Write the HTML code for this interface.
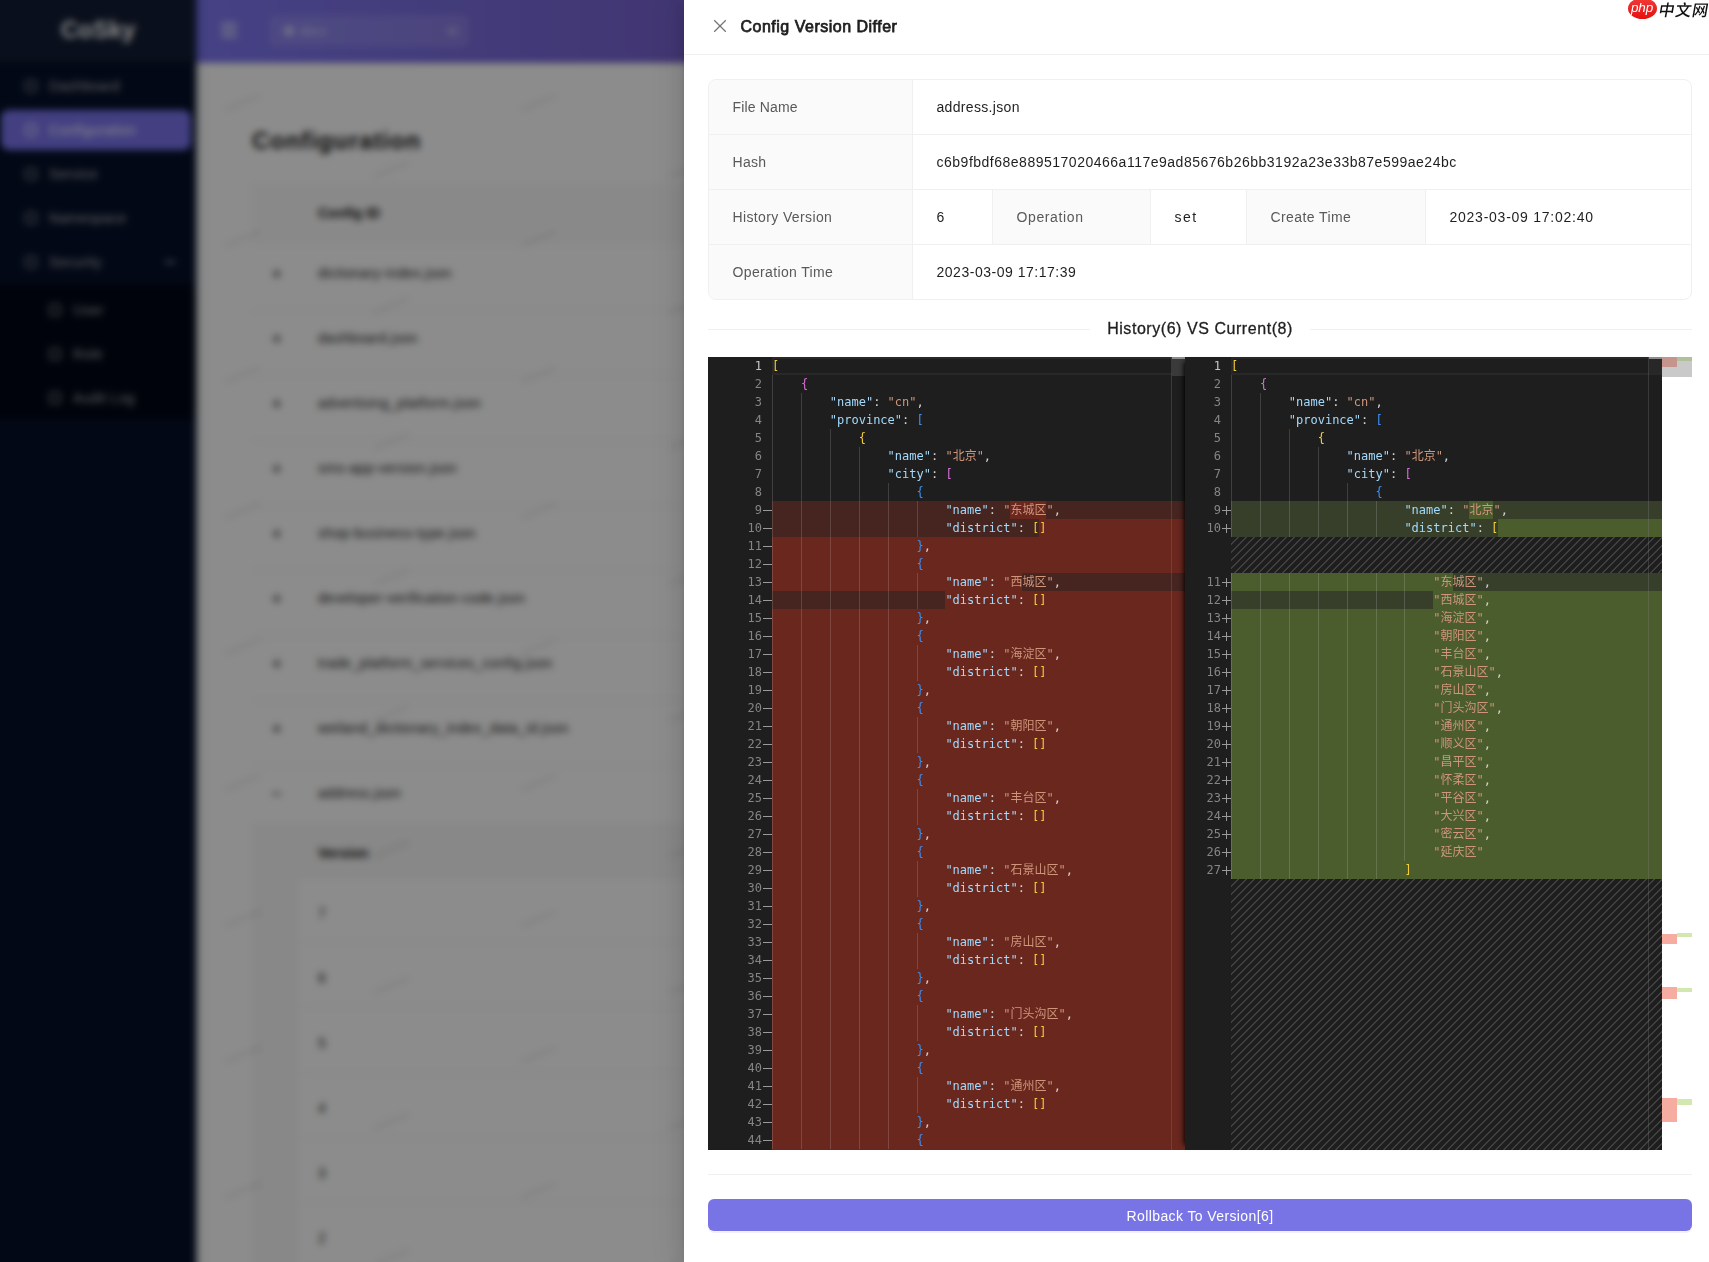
<!DOCTYPE html>
<html lang="en"><head><meta charset="utf-8"><title>Config Version Differ</title>
<style>
*{box-sizing:border-box;margin:0;padding:0}
html,body{width:1709px;height:1262px;overflow:hidden;background:#fff}
body{position:relative;font-family:"Liberation Sans","Noto Sans CJK SC",sans-serif;font-size:14px;color:#1f1f1f}
i{display:block;position:absolute;font-style:normal}
#app{position:absolute;left:0;top:0;width:1709px;height:1262px;background:#fff;filter:blur(3.5px);overflow:visible}
#mask{position:absolute;left:0;top:0;width:1709px;height:1262px;background:rgba(0,0,0,.45)}
#side{position:absolute;z-index:3;left:-30px;top:-30px;width:226px;height:1330px;background:#051028;padding-left:30px;box-shadow:2px 0 8px rgba(0,21,41,.3)}
#side>*{position:absolute}
#logo{left:0;top:0;width:226px;height:92px;background:#121d33;color:#fff;font-weight:700;font-size:24px;line-height:60px;text-align:center;padding:30px 0 0 30px}
#subbg{left:0;top:314px;width:226px;height:136px;background:#020716}
.mi{left:31px;width:190px;height:40px;border-radius:8px;color:rgba(255,255,255,.65);line-height:40px;margin-top:30px}
.mi.sel{background:#7a74ec;color:#fff}
.mi span{position:absolute;left:48px;letter-spacing:.3px}
.mi .ic{left:24px;top:14px;width:12px;height:12px;border:2px solid currentColor;border-radius:3px;opacity:.7}
.mi.subi span{left:72px}.mi.subi .ic{left:48px}
.mi .arr{right:16px;top:19px;width:10px;height:2px;background:currentColor}
#top{position:absolute;z-index:2;left:195px;top:-30px;width:1514px;height:93px;background:linear-gradient(90deg,#7e78f2 0,#7763d0 489px)}
#burger{left:26px;top:53px;width:16px;height:14px;border-top:2px solid #fff;border-bottom:2px solid #fff}
#burger:after{content:"";position:absolute;left:0;right:0;top:4px;height:2px;background:#fff}
#sel{position:absolute;left:74px;top:45px;width:200px;height:32px;border-radius:6px;background:rgba(255,255,255,.12);color:rgba(255,255,255,.7);line-height:32px}
#sel span{position:absolute;left:31px;letter-spacing:2px}
#sel .ic2{left:15px;top:11px;width:10px;height:10px;background:rgba(255,255,255,.5);border-radius:2px}
#sel .arr2{right:12px;top:13px;width:9px;height:6px;background:rgba(255,255,255,.35)}
#content{position:absolute;left:195px;top:0;width:1514px;height:1300px;background:#fff}
#content>*{position:absolute}
#ttl{left:57px;top:125px;font-size:24px;font-weight:700;line-height:32px;color:#141414;letter-spacing:.9px}
#thead{left:57px;top:184px;width:1400px;height:61px;background:#fafafa}
.th{left:123px;font-size:14px;line-height:22px;color:#141414}
.td{left:123px;font-size:14px;line-height:22px;color:#262626;letter-spacing:.3px;white-space:nowrap}
.exp{left:77px;width:9px;height:9px}.exp:before{content:"";position:absolute;left:0;top:3.5px;width:9px;height:2px;background:#595959}.exp:after{content:"";position:absolute;left:3.5px;top:0;width:2px;height:9px;background:#595959}
.exp.open:after{display:none}.rl{left:57px;width:1400px;height:1px;background:#ececec}
.rl2{left:105px;width:1400px;height:1px;background:#ececec}
#expbg{left:57px;top:823px;width:1400px;height:460px;background:#f7f7f7}
#inner{left:103px;top:879px;width:1400px;height:420px;background:#fff}
.wm{width:38px;height:3px;margin-left:3px;background:rgba(0,0,0,.09);transform:rotate(-22deg);border-radius:2px}
#drawer{position:absolute;left:684px;top:0;width:1025px;height:1262px;background:#fff;box-shadow:-6px 0 16px 0 rgba(0,0,0,.08),-3px 0 6px -4px rgba(0,0,0,.12),-9px 0 28px 8px rgba(0,0,0,.05)}
#drawer>*{position:absolute}
#dh{left:0;top:0;width:1025px;height:55px;border-bottom:1px solid #f0f0f0}
#close{position:absolute;left:29px;top:19px}
#dt{position:absolute;left:56.5px;top:15px;font-size:16px;font-weight:400;line-height:24px;color:#1f1f1f;-webkit-text-stroke:.75px #1f1f1f;letter-spacing:.5px;white-space:nowrap}
#desc{left:24px;top:79px;width:984px;height:221px;border:1px solid #f0f0f0;border-radius:8px;overflow:hidden}
.row{position:absolute;left:0;width:982px;height:55px;border-bottom:1px solid #f0f0f0}
.row>div{position:absolute;top:0;height:54px;padding:16px 24px 16px 23.5px;line-height:22px;white-space:nowrap}
.lb{background:#fafafa;color:#595959;border-right:1px solid #f0f0f0}
.vl{color:#1f1f1f}
#dv{left:24px;top:317px;width:984px;height:24px;display:flex;align-items:center}
#dv i{position:static;flex:1;height:1px;background:#f0f0f0;margin-top:1px}
#dv span{font-size:16px;line-height:24px;padding:0 17px;letter-spacing:.55px;color:#1f1f1f;-webkit-text-stroke:.3px #1f1f1f;white-space:nowrap}
#dv2{left:24px;top:1174px;width:984px;height:1px;background:#f0f0f0}
#btn{left:24px;top:1199px;width:984px;height:32px;border-radius:6px;background:#7874e6;color:#fff;text-align:center;line-height:32px;box-shadow:0 2px 0 rgba(60,5,255,.06)}
#btn span{letter-spacing:.39px;position:relative;top:1px}
.ed{position:absolute;background:#1e1e1e;overflow:hidden;font-family:"DejaVu Sans Mono","Noto Sans CJK SC",monospace;font-size:12px;line-height:18px;color:#d4d4d4}
#edR{box-shadow:-6px 0 5px -5px #000}
.ln{position:absolute;text-align:right;color:#858585;height:18px}
.ln.a{color:#c6c6c6}
#edL .ln{left:0;width:54px}
#edR .ln{left:0;width:36px}
.cl{position:absolute;height:18px;white-space:pre}
#edL .cl{left:64px}
#edR .cl{left:46px}
.k{color:#a3dafc}.s{color:#cf967c}.d{color:#d4d4d4}.by{color:#f2cf3a}.bo{color:#d670d6}.bb{color:#3f8ff0}
.g{width:1px;background:rgba(255,255,255,.15)}
.rd{background:#46241f}.rb{background:#69271e}.gd{background:#373f2b}.gb{background:#4b5c2d}
.cur{border:2px solid #282828}
.minus{left:55px;width:9px;height:1px;background:#9a9a9a}
.plus{left:37px;width:9px;height:9px}
.plus:before{content:"";position:absolute;left:0;top:4px;width:9px;height:1px;background:#9a9a9a}
.plus:after{content:"";position:absolute;left:4px;top:0;width:1px;height:9px;background:#9a9a9a}
.lane{top:0;width:1px;height:793px;background:rgba(127,127,127,.3)}
.hatch{background-image:linear-gradient(-45deg,rgba(204,204,204,.2) 12.5%,transparent 12.5%,transparent 50%,rgba(204,204,204,.2) 50%,rgba(204,204,204,.2) 62.5%,transparent 62.5%,transparent 100%);background-size:8px 8px}
#ov{position:absolute;background:#fff}
#wmk{position:absolute;left:1628px;top:0;width:81px;height:20px;white-space:nowrap}
#php{position:absolute;left:0;top:-2px;width:29px;height:21px;border-radius:50%;background:linear-gradient(#f23a3a,#e60f0f);color:#fff;font-style:italic;font-size:13.5px;line-height:20px;text-align:center;letter-spacing:-.2px;text-indent:-1px}
#cn{position:absolute;left:31px;top:-1px;font-family:"Noto Sans CJK SC","Liberation Sans",sans-serif;font-size:16px;line-height:20px;font-weight:500;color:#111;transform:skewX(-10deg);letter-spacing:.8px}
</style></head>
<body>
<div id="app"><div id="side"><div id="logo">CoSky</div><div id="subbg"></div><div class="mi" style="top:66px"><i class="ic"></i><span>Dashboard</span></div><div class="mi sel" style="top:110px"><i class="ic"></i><span>Configuration</span></div><div class="mi" style="top:154px"><i class="ic"></i><span>Service</span></div><div class="mi" style="top:198px"><i class="ic"></i><span>Namespace</span></div><div class="mi" style="top:242px"><i class="ic"></i><span>Security</span><i class="arr"></i></div><div class="mi subi" style="top:290px"><i class="ic"></i><span>User</span></div><div class="mi subi" style="top:334px"><i class="ic"></i><span>Role</span></div><div class="mi subi" style="top:378px"><i class="ic"></i><span>Audit Log</span></div></div><div id="top"><i id="burger"></i><div id="sel"><i class="ic2"></i><span>dev</span><i class="arr2"></i></div></div><div id="content"><h1 id="ttl">Configuration</h1><div id="thead"></div><b class="th" style="top:202px">Config ID</b><i class="exp" style="top:269px"></i><span class="td" style="top:262px">dictionary-index.json</span><i class="rl" style="top:310px"></i><i class="exp" style="top:334px"></i><span class="td" style="top:327px">dashboard.json</span><i class="rl" style="top:375px"></i><i class="exp" style="top:399px"></i><span class="td" style="top:392px">advertising_platform.json</span><i class="rl" style="top:440px"></i><i class="exp" style="top:464px"></i><span class="td" style="top:457px">sms-app-version.json</span><i class="rl" style="top:505px"></i><i class="exp" style="top:529px"></i><span class="td" style="top:522px">shop-business-type.json</span><i class="rl" style="top:570px"></i><i class="exp" style="top:594px"></i><span class="td" style="top:587px">developer-verification-code.json</span><i class="rl" style="top:635px"></i><i class="exp" style="top:659px"></i><span class="td" style="top:652px">trade_platform_services_config.json</span><i class="rl" style="top:700px"></i><i class="exp" style="top:724px"></i><span class="td" style="top:717px">weiland_dictionary_index_data_id.json</span><i class="rl" style="top:765px"></i><i class="exp open" style="top:789px"></i><span class="td" style="top:782px">address.json</span><i class="rl" style="top:830px"></i><div id="expbg"></div><div id="inner"></div><b class="th" style="top:842px">Version</b><span class="td" style="top:902px">7</span><i class="rl2" style="top:942px"></i><span class="td" style="top:967px">6</span><i class="rl2" style="top:1007px"></i><span class="td" style="top:1032px">5</span><i class="rl2" style="top:1072px"></i><span class="td" style="top:1097px">4</span><i class="rl2" style="top:1137px"></i><span class="td" style="top:1162px">3</span><i class="rl2" style="top:1202px"></i><span class="td" style="top:1227px">2</span><i class="rl2" style="top:1267px"></i><i class="wm" style="left:26px;top:-35.5px"></i><i class="wm" style="left:174px;top:32px"></i><i class="wm" style="left:322px;top:-35.5px"></i><i class="wm" style="left:470px;top:32px"></i><i class="wm" style="left:618px;top:-35.5px"></i><i class="wm" style="left:766px;top:32px"></i><i class="wm" style="left:26px;top:100.5px"></i><i class="wm" style="left:174px;top:168px"></i><i class="wm" style="left:322px;top:100.5px"></i><i class="wm" style="left:470px;top:168px"></i><i class="wm" style="left:618px;top:100.5px"></i><i class="wm" style="left:766px;top:168px"></i><i class="wm" style="left:26px;top:236.5px"></i><i class="wm" style="left:174px;top:304px"></i><i class="wm" style="left:322px;top:236.5px"></i><i class="wm" style="left:470px;top:304px"></i><i class="wm" style="left:618px;top:236.5px"></i><i class="wm" style="left:766px;top:304px"></i><i class="wm" style="left:26px;top:372.5px"></i><i class="wm" style="left:174px;top:440px"></i><i class="wm" style="left:322px;top:372.5px"></i><i class="wm" style="left:470px;top:440px"></i><i class="wm" style="left:618px;top:372.5px"></i><i class="wm" style="left:766px;top:440px"></i><i class="wm" style="left:26px;top:508.5px"></i><i class="wm" style="left:174px;top:576px"></i><i class="wm" style="left:322px;top:508.5px"></i><i class="wm" style="left:470px;top:576px"></i><i class="wm" style="left:618px;top:508.5px"></i><i class="wm" style="left:766px;top:576px"></i><i class="wm" style="left:26px;top:644.5px"></i><i class="wm" style="left:174px;top:712px"></i><i class="wm" style="left:322px;top:644.5px"></i><i class="wm" style="left:470px;top:712px"></i><i class="wm" style="left:618px;top:644.5px"></i><i class="wm" style="left:766px;top:712px"></i><i class="wm" style="left:26px;top:780.5px"></i><i class="wm" style="left:174px;top:848px"></i><i class="wm" style="left:322px;top:780.5px"></i><i class="wm" style="left:470px;top:848px"></i><i class="wm" style="left:618px;top:780.5px"></i><i class="wm" style="left:766px;top:848px"></i><i class="wm" style="left:26px;top:916.5px"></i><i class="wm" style="left:174px;top:984px"></i><i class="wm" style="left:322px;top:916.5px"></i><i class="wm" style="left:470px;top:984px"></i><i class="wm" style="left:618px;top:916.5px"></i><i class="wm" style="left:766px;top:984px"></i><i class="wm" style="left:26px;top:1052.5px"></i><i class="wm" style="left:174px;top:1120px"></i><i class="wm" style="left:322px;top:1052.5px"></i><i class="wm" style="left:470px;top:1120px"></i><i class="wm" style="left:618px;top:1052.5px"></i><i class="wm" style="left:766px;top:1120px"></i><i class="wm" style="left:26px;top:1188.5px"></i><i class="wm" style="left:174px;top:1256px"></i><i class="wm" style="left:322px;top:1188.5px"></i><i class="wm" style="left:470px;top:1256px"></i><i class="wm" style="left:618px;top:1188.5px"></i><i class="wm" style="left:766px;top:1256px"></i><i class="wm" style="left:26px;top:1324.5px"></i><i class="wm" style="left:174px;top:1392px"></i><i class="wm" style="left:322px;top:1324.5px"></i><i class="wm" style="left:470px;top:1392px"></i><i class="wm" style="left:618px;top:1324.5px"></i><i class="wm" style="left:766px;top:1392px"></i></div></div><div id="mask"></div>

<div id="drawer">
 <div id="dh">
  <svg id="close" width="14" height="14" viewBox="0 0 14 14"><path d="M1.2 1.2 L12.8 12.8 M12.8 1.2 L1.2 12.8" stroke="#747474" stroke-width="1.25" fill="none"/></svg>
  <div id="dt">Config Version Differ</div>
 </div>
 <div id="desc">
  <div class="row" style="top:0"><div class="lb" style="left:0;width:204px"><span style="letter-spacing:.15px">File Name</span></div><div class="vl" style="left:204px;right:0"><span style="letter-spacing:.33px">address.json</span></div></div>
  <div class="row" style="top:55px"><div class="lb" style="left:0;width:204px"><span style="letter-spacing:.3px">Hash</span></div><div class="vl" style="left:204px;right:0"><span style="letter-spacing:.505px">c6b9fbdf68e889517020466a117e9ad85676b26bb3192a23e33b87e599ae24bc</span></div></div>
  <div class="row" style="top:110px">
    <div class="lb" style="left:0;width:204px"><span style="letter-spacing:.37px">History Version</span></div>
    <div class="vl" style="left:204px;width:79px"><span>6</span></div>
    <div class="lb" style="left:283px;width:159px;border-left:1px solid #f0f0f0"><span style="letter-spacing:.62px">Operation</span></div>
    <div class="vl" style="left:442px;width:95px"><span style="letter-spacing:1.5px">set</span></div>
    <div class="lb" style="left:537px;width:180px;border-left:1px solid #f0f0f0"><span style="letter-spacing:.4px">Create Time</span></div>
    <div class="vl" style="left:717px;right:0"><span style="letter-spacing:.75px">2023-03-09 17:02:40</span></div>
  </div>
  <div class="row" style="top:165px;border-bottom:0"><div class="lb" style="left:0;width:204px"><span style="letter-spacing:.36px">Operation Time</span></div><div class="vl" style="left:204px;right:0"><span style="letter-spacing:.52px">2023-03-09 17:17:39</span></div></div>
 </div>
 <div id="dv"><i></i><span>History(6) VS Current(8)</span><i></i></div>
 <div id="dv2"></div>
 <div id="btn"><span>Rollback To Version[6]</span></div>
</div>
<div id="wmk"><span id="php">php</span><span id="cn">中文网</span></div>

<div class="ed" id="edL" style="left:708px;top:357px;width:477px;height:793px"><i class="rd" style="left:64.00px;top:144px;width:413.00px;height:36px"></i><i class="rb" style="left:302.39px;top:144px;width:36.00px;height:18px"></i><i class="rb" style="left:331.29px;top:162px;width:145.71px;height:18px"></i><i class="rb" style="left:64.00px;top:180px;width:413.00px;height:36px"></i><i class="rb" style="left:64.00px;top:216px;width:250.39px;height:18px"></i><i class="rd" style="left:314.39px;top:216px;width:162.61px;height:18px"></i><i class="rd" style="left:64.00px;top:234px;width:173.38px;height:18px"></i><i class="rb" style="left:237.38px;top:234px;width:239.62px;height:18px"></i><i class="rb" style="left:64px;top:252px;width:413px;height:541px"></i><i class="g" style="left:64.00px;top:18px;height:774px"></i><i class="g" style="left:92.90px;top:36px;height:756px"></i><i class="g" style="left:121.79px;top:72px;height:720px"></i><i class="g" style="left:150.69px;top:90px;height:702px"></i><i class="g" style="left:179.58px;top:126px;height:666px"></i><i class="g" style="left:209.38px;top:144px;height:36px"></i><i class="g" style="left:209.38px;top:216px;height:36px"></i><i class="g" style="left:209.38px;top:288px;height:36px"></i><i class="g" style="left:209.38px;top:360px;height:36px"></i><i class="g" style="left:209.38px;top:432px;height:36px"></i><i class="g" style="left:209.38px;top:504px;height:36px"></i><i class="g" style="left:209.38px;top:576px;height:36px"></i><i class="g" style="left:209.38px;top:648px;height:36px"></i><i class="g" style="left:209.38px;top:720px;height:36px"></i><i class="cur" style="left:64px;top:0;width:417px;height:18px"></i><span class="ln a" style="top:0px">1</span><div class="cl" style="top:0px"><span class="by">[</span></div><span class="ln" style="top:18px">2</span><div class="cl" style="top:18px">    <span class="bo">{</span></div><span class="ln" style="top:36px">3</span><div class="cl" style="top:36px">        <span class="k">"name"</span><span class="d">: </span><span class="s">"cn"</span><span class="d">,</span></div><span class="ln" style="top:54px">4</span><div class="cl" style="top:54px">        <span class="k">"province"</span><span class="d">: </span><span class="bb">[</span></div><span class="ln" style="top:72px">5</span><div class="cl" style="top:72px">            <span class="by">{</span></div><span class="ln" style="top:90px">6</span><div class="cl" style="top:90px">                <span class="k">"name"</span><span class="d">: </span><span class="s">"北京"</span><span class="d">,</span></div><span class="ln" style="top:108px">7</span><div class="cl" style="top:108px">                <span class="k">"city"</span><span class="d">: </span><span class="bo">[</span></div><span class="ln" style="top:126px">8</span><div class="cl" style="top:126px">                    <span class="bb">{</span></div><span class="ln" style="top:144px">9</span><i class="minus" style="top:153px"></i><div class="cl" style="top:144px">                        <span class="k">"name"</span><span class="d">: </span><span class="s">"东城区"</span><span class="d">,</span></div><span class="ln" style="top:162px">10</span><i class="minus" style="top:171px"></i><div class="cl" style="top:162px">                        <span class="k">"district"</span><span class="d">: </span><span class="by">[]</span></div><span class="ln" style="top:180px">11</span><i class="minus" style="top:189px"></i><div class="cl" style="top:180px">                    <span class="bb">}</span><span class="d">,</span></div><span class="ln" style="top:198px">12</span><i class="minus" style="top:207px"></i><div class="cl" style="top:198px">                    <span class="bb">{</span></div><span class="ln" style="top:216px">13</span><i class="minus" style="top:225px"></i><div class="cl" style="top:216px">                        <span class="k">"name"</span><span class="d">: </span><span class="s">"西城区"</span><span class="d">,</span></div><span class="ln" style="top:234px">14</span><i class="minus" style="top:243px"></i><div class="cl" style="top:234px">                        <span class="k">"district"</span><span class="d">: </span><span class="by">[]</span></div><span class="ln" style="top:252px">15</span><i class="minus" style="top:261px"></i><div class="cl" style="top:252px">                    <span class="bb">}</span><span class="d">,</span></div><span class="ln" style="top:270px">16</span><i class="minus" style="top:279px"></i><div class="cl" style="top:270px">                    <span class="bb">{</span></div><span class="ln" style="top:288px">17</span><i class="minus" style="top:297px"></i><div class="cl" style="top:288px">                        <span class="k">"name"</span><span class="d">: </span><span class="s">"海淀区"</span><span class="d">,</span></div><span class="ln" style="top:306px">18</span><i class="minus" style="top:315px"></i><div class="cl" style="top:306px">                        <span class="k">"district"</span><span class="d">: </span><span class="by">[]</span></div><span class="ln" style="top:324px">19</span><i class="minus" style="top:333px"></i><div class="cl" style="top:324px">                    <span class="bb">}</span><span class="d">,</span></div><span class="ln" style="top:342px">20</span><i class="minus" style="top:351px"></i><div class="cl" style="top:342px">                    <span class="bb">{</span></div><span class="ln" style="top:360px">21</span><i class="minus" style="top:369px"></i><div class="cl" style="top:360px">                        <span class="k">"name"</span><span class="d">: </span><span class="s">"朝阳区"</span><span class="d">,</span></div><span class="ln" style="top:378px">22</span><i class="minus" style="top:387px"></i><div class="cl" style="top:378px">                        <span class="k">"district"</span><span class="d">: </span><span class="by">[]</span></div><span class="ln" style="top:396px">23</span><i class="minus" style="top:405px"></i><div class="cl" style="top:396px">                    <span class="bb">}</span><span class="d">,</span></div><span class="ln" style="top:414px">24</span><i class="minus" style="top:423px"></i><div class="cl" style="top:414px">                    <span class="bb">{</span></div><span class="ln" style="top:432px">25</span><i class="minus" style="top:441px"></i><div class="cl" style="top:432px">                        <span class="k">"name"</span><span class="d">: </span><span class="s">"丰台区"</span><span class="d">,</span></div><span class="ln" style="top:450px">26</span><i class="minus" style="top:459px"></i><div class="cl" style="top:450px">                        <span class="k">"district"</span><span class="d">: </span><span class="by">[]</span></div><span class="ln" style="top:468px">27</span><i class="minus" style="top:477px"></i><div class="cl" style="top:468px">                    <span class="bb">}</span><span class="d">,</span></div><span class="ln" style="top:486px">28</span><i class="minus" style="top:495px"></i><div class="cl" style="top:486px">                    <span class="bb">{</span></div><span class="ln" style="top:504px">29</span><i class="minus" style="top:513px"></i><div class="cl" style="top:504px">                        <span class="k">"name"</span><span class="d">: </span><span class="s">"石景山区"</span><span class="d">,</span></div><span class="ln" style="top:522px">30</span><i class="minus" style="top:531px"></i><div class="cl" style="top:522px">                        <span class="k">"district"</span><span class="d">: </span><span class="by">[]</span></div><span class="ln" style="top:540px">31</span><i class="minus" style="top:549px"></i><div class="cl" style="top:540px">                    <span class="bb">}</span><span class="d">,</span></div><span class="ln" style="top:558px">32</span><i class="minus" style="top:567px"></i><div class="cl" style="top:558px">                    <span class="bb">{</span></div><span class="ln" style="top:576px">33</span><i class="minus" style="top:585px"></i><div class="cl" style="top:576px">                        <span class="k">"name"</span><span class="d">: </span><span class="s">"房山区"</span><span class="d">,</span></div><span class="ln" style="top:594px">34</span><i class="minus" style="top:603px"></i><div class="cl" style="top:594px">                        <span class="k">"district"</span><span class="d">: </span><span class="by">[]</span></div><span class="ln" style="top:612px">35</span><i class="minus" style="top:621px"></i><div class="cl" style="top:612px">                    <span class="bb">}</span><span class="d">,</span></div><span class="ln" style="top:630px">36</span><i class="minus" style="top:639px"></i><div class="cl" style="top:630px">                    <span class="bb">{</span></div><span class="ln" style="top:648px">37</span><i class="minus" style="top:657px"></i><div class="cl" style="top:648px">                        <span class="k">"name"</span><span class="d">: </span><span class="s">"门头沟区"</span><span class="d">,</span></div><span class="ln" style="top:666px">38</span><i class="minus" style="top:675px"></i><div class="cl" style="top:666px">                        <span class="k">"district"</span><span class="d">: </span><span class="by">[]</span></div><span class="ln" style="top:684px">39</span><i class="minus" style="top:693px"></i><div class="cl" style="top:684px">                    <span class="bb">}</span><span class="d">,</span></div><span class="ln" style="top:702px">40</span><i class="minus" style="top:711px"></i><div class="cl" style="top:702px">                    <span class="bb">{</span></div><span class="ln" style="top:720px">41</span><i class="minus" style="top:729px"></i><div class="cl" style="top:720px">                        <span class="k">"name"</span><span class="d">: </span><span class="s">"通州区"</span><span class="d">,</span></div><span class="ln" style="top:738px">42</span><i class="minus" style="top:747px"></i><div class="cl" style="top:738px">                        <span class="k">"district"</span><span class="d">: </span><span class="by">[]</span></div><span class="ln" style="top:756px">43</span><i class="minus" style="top:765px"></i><div class="cl" style="top:756px">                    <span class="bb">}</span><span class="d">,</span></div><span class="ln" style="top:774px">44</span><i class="minus" style="top:783px"></i><div class="cl" style="top:774px">                    <span class="bb">{</span></div><i class="lane" style="left:463px"></i><i class="slider" style="left:464px;top:0;width:13px;height:19px;background:#3a3a3a"></i><i class="slider" style="left:464px;top:0;width:13px;height:2px;background:#8c8c8c"></i></div>
<div class="ed" id="edR" style="left:1185px;top:357px;width:477px;height:793px"><i class="hatch" style="left:46px;top:180px;width:431px;height:36px"></i><i class="hatch" style="left:46px;top:522px;width:431px;height:271px"></i><i class="gd" style="left:46.00px;top:144px;width:431.00px;height:36px"></i><i class="gb" style="left:284.39px;top:144px;width:24.00px;height:18px"></i><i class="gb" style="left:313.29px;top:162px;width:163.71px;height:18px"></i><i class="gb" style="left:46.00px;top:216px;width:221.50px;height:18px"></i><i class="gd" style="left:267.50px;top:216px;width:209.50px;height:18px"></i><i class="gd" style="left:46.00px;top:234px;width:202.27px;height:18px"></i><i class="gb" style="left:248.27px;top:234px;width:228.73px;height:18px"></i><i class="gb" style="left:46.00px;top:252px;width:431.00px;height:270px"></i><i class="g" style="left:46.00px;top:18px;height:162px"></i><i class="g" style="left:46.00px;top:216px;height:306px"></i><i class="g" style="left:74.90px;top:36px;height:144px"></i><i class="g" style="left:74.90px;top:216px;height:306px"></i><i class="g" style="left:103.79px;top:72px;height:108px"></i><i class="g" style="left:103.79px;top:216px;height:306px"></i><i class="g" style="left:132.69px;top:90px;height:90px"></i><i class="g" style="left:132.69px;top:216px;height:306px"></i><i class="g" style="left:161.58px;top:126px;height:54px"></i><i class="g" style="left:161.58px;top:216px;height:306px"></i><i class="g" style="left:191.38px;top:144px;height:36px"></i><i class="g" style="left:191.38px;top:216px;height:306px"></i><i class="g" style="left:219.38px;top:216px;height:288px"></i><i class="cur" style="left:46px;top:0;width:431px;height:18px"></i><span class="ln a" style="top:0px">1</span><div class="cl" style="top:0px"><span class="by">[</span></div><span class="ln" style="top:18px">2</span><div class="cl" style="top:18px">    <span class="bo">{</span></div><span class="ln" style="top:36px">3</span><div class="cl" style="top:36px">        <span class="k">"name"</span><span class="d">: </span><span class="s">"cn"</span><span class="d">,</span></div><span class="ln" style="top:54px">4</span><div class="cl" style="top:54px">        <span class="k">"province"</span><span class="d">: </span><span class="bb">[</span></div><span class="ln" style="top:72px">5</span><div class="cl" style="top:72px">            <span class="by">{</span></div><span class="ln" style="top:90px">6</span><div class="cl" style="top:90px">                <span class="k">"name"</span><span class="d">: </span><span class="s">"北京"</span><span class="d">,</span></div><span class="ln" style="top:108px">7</span><div class="cl" style="top:108px">                <span class="k">"city"</span><span class="d">: </span><span class="bo">[</span></div><span class="ln" style="top:126px">8</span><div class="cl" style="top:126px">                    <span class="bb">{</span></div><span class="ln" style="top:144px">9</span><i class="plus" style="top:149px"></i><div class="cl" style="top:144px">                        <span class="k">"name"</span><span class="d">: </span><span class="s">"北京"</span><span class="d">,</span></div><span class="ln" style="top:162px">10</span><i class="plus" style="top:167px"></i><div class="cl" style="top:162px">                        <span class="k">"district"</span><span class="d">: </span><span class="by">[</span></div><span class="ln" style="top:216px">11</span><i class="plus" style="top:221px"></i><div class="cl" style="top:216px">                            <span class="s">"东城区"</span><span class="d">,</span></div><span class="ln" style="top:234px">12</span><i class="plus" style="top:239px"></i><div class="cl" style="top:234px">                            <span class="s">"西城区"</span><span class="d">,</span></div><span class="ln" style="top:252px">13</span><i class="plus" style="top:257px"></i><div class="cl" style="top:252px">                            <span class="s">"海淀区"</span><span class="d">,</span></div><span class="ln" style="top:270px">14</span><i class="plus" style="top:275px"></i><div class="cl" style="top:270px">                            <span class="s">"朝阳区"</span><span class="d">,</span></div><span class="ln" style="top:288px">15</span><i class="plus" style="top:293px"></i><div class="cl" style="top:288px">                            <span class="s">"丰台区"</span><span class="d">,</span></div><span class="ln" style="top:306px">16</span><i class="plus" style="top:311px"></i><div class="cl" style="top:306px">                            <span class="s">"石景山区"</span><span class="d">,</span></div><span class="ln" style="top:324px">17</span><i class="plus" style="top:329px"></i><div class="cl" style="top:324px">                            <span class="s">"房山区"</span><span class="d">,</span></div><span class="ln" style="top:342px">18</span><i class="plus" style="top:347px"></i><div class="cl" style="top:342px">                            <span class="s">"门头沟区"</span><span class="d">,</span></div><span class="ln" style="top:360px">19</span><i class="plus" style="top:365px"></i><div class="cl" style="top:360px">                            <span class="s">"通州区"</span><span class="d">,</span></div><span class="ln" style="top:378px">20</span><i class="plus" style="top:383px"></i><div class="cl" style="top:378px">                            <span class="s">"顺义区"</span><span class="d">,</span></div><span class="ln" style="top:396px">21</span><i class="plus" style="top:401px"></i><div class="cl" style="top:396px">                            <span class="s">"昌平区"</span><span class="d">,</span></div><span class="ln" style="top:414px">22</span><i class="plus" style="top:419px"></i><div class="cl" style="top:414px">                            <span class="s">"怀柔区"</span><span class="d">,</span></div><span class="ln" style="top:432px">23</span><i class="plus" style="top:437px"></i><div class="cl" style="top:432px">                            <span class="s">"平谷区"</span><span class="d">,</span></div><span class="ln" style="top:450px">24</span><i class="plus" style="top:455px"></i><div class="cl" style="top:450px">                            <span class="s">"大兴区"</span><span class="d">,</span></div><span class="ln" style="top:468px">25</span><i class="plus" style="top:473px"></i><div class="cl" style="top:468px">                            <span class="s">"密云区"</span><span class="d">,</span></div><span class="ln" style="top:486px">26</span><i class="plus" style="top:491px"></i><div class="cl" style="top:486px">                            <span class="s">"延庆区"</span></div><span class="ln" style="top:504px">27</span><i class="plus" style="top:509px"></i><div class="cl" style="top:504px">                        <span class="by">]</span></div><i class="lane" style="left:463px"></i><i class="slider" style="left:464px;top:2px;width:11px;height:14px;background:#272727"></i><i class="slider" style="left:464px;top:0;width:13px;height:2px;background:#8c8c8c"></i></div>
<div id="ov" style="left:1662px;top:357px;width:30px;height:793px"><i style="left:0;top:0;width:30px;height:20px;background:#c9c9c9"></i><i style="left:0;top:0;width:15px;height:10px;background:#c5958d"></i><i style="left:15px;top:0;width:15px;height:4px;background:#b0c09a"></i><i style="left:0;top:577px;width:15px;height:10px;background:#f7aca2"></i><i style="left:15px;top:576px;width:15px;height:4px;background:#d3e8ae"></i><i style="left:0;top:630px;width:15px;height:12px;background:#f7aca2"></i><i style="left:15px;top:631px;width:15px;height:4px;background:#d3e8ae"></i><i style="left:0;top:741px;width:15px;height:24px;background:#f7aca2"></i><i style="left:15px;top:742px;width:15px;height:6px;background:#d3e8ae"></i></div>
</body></html>
